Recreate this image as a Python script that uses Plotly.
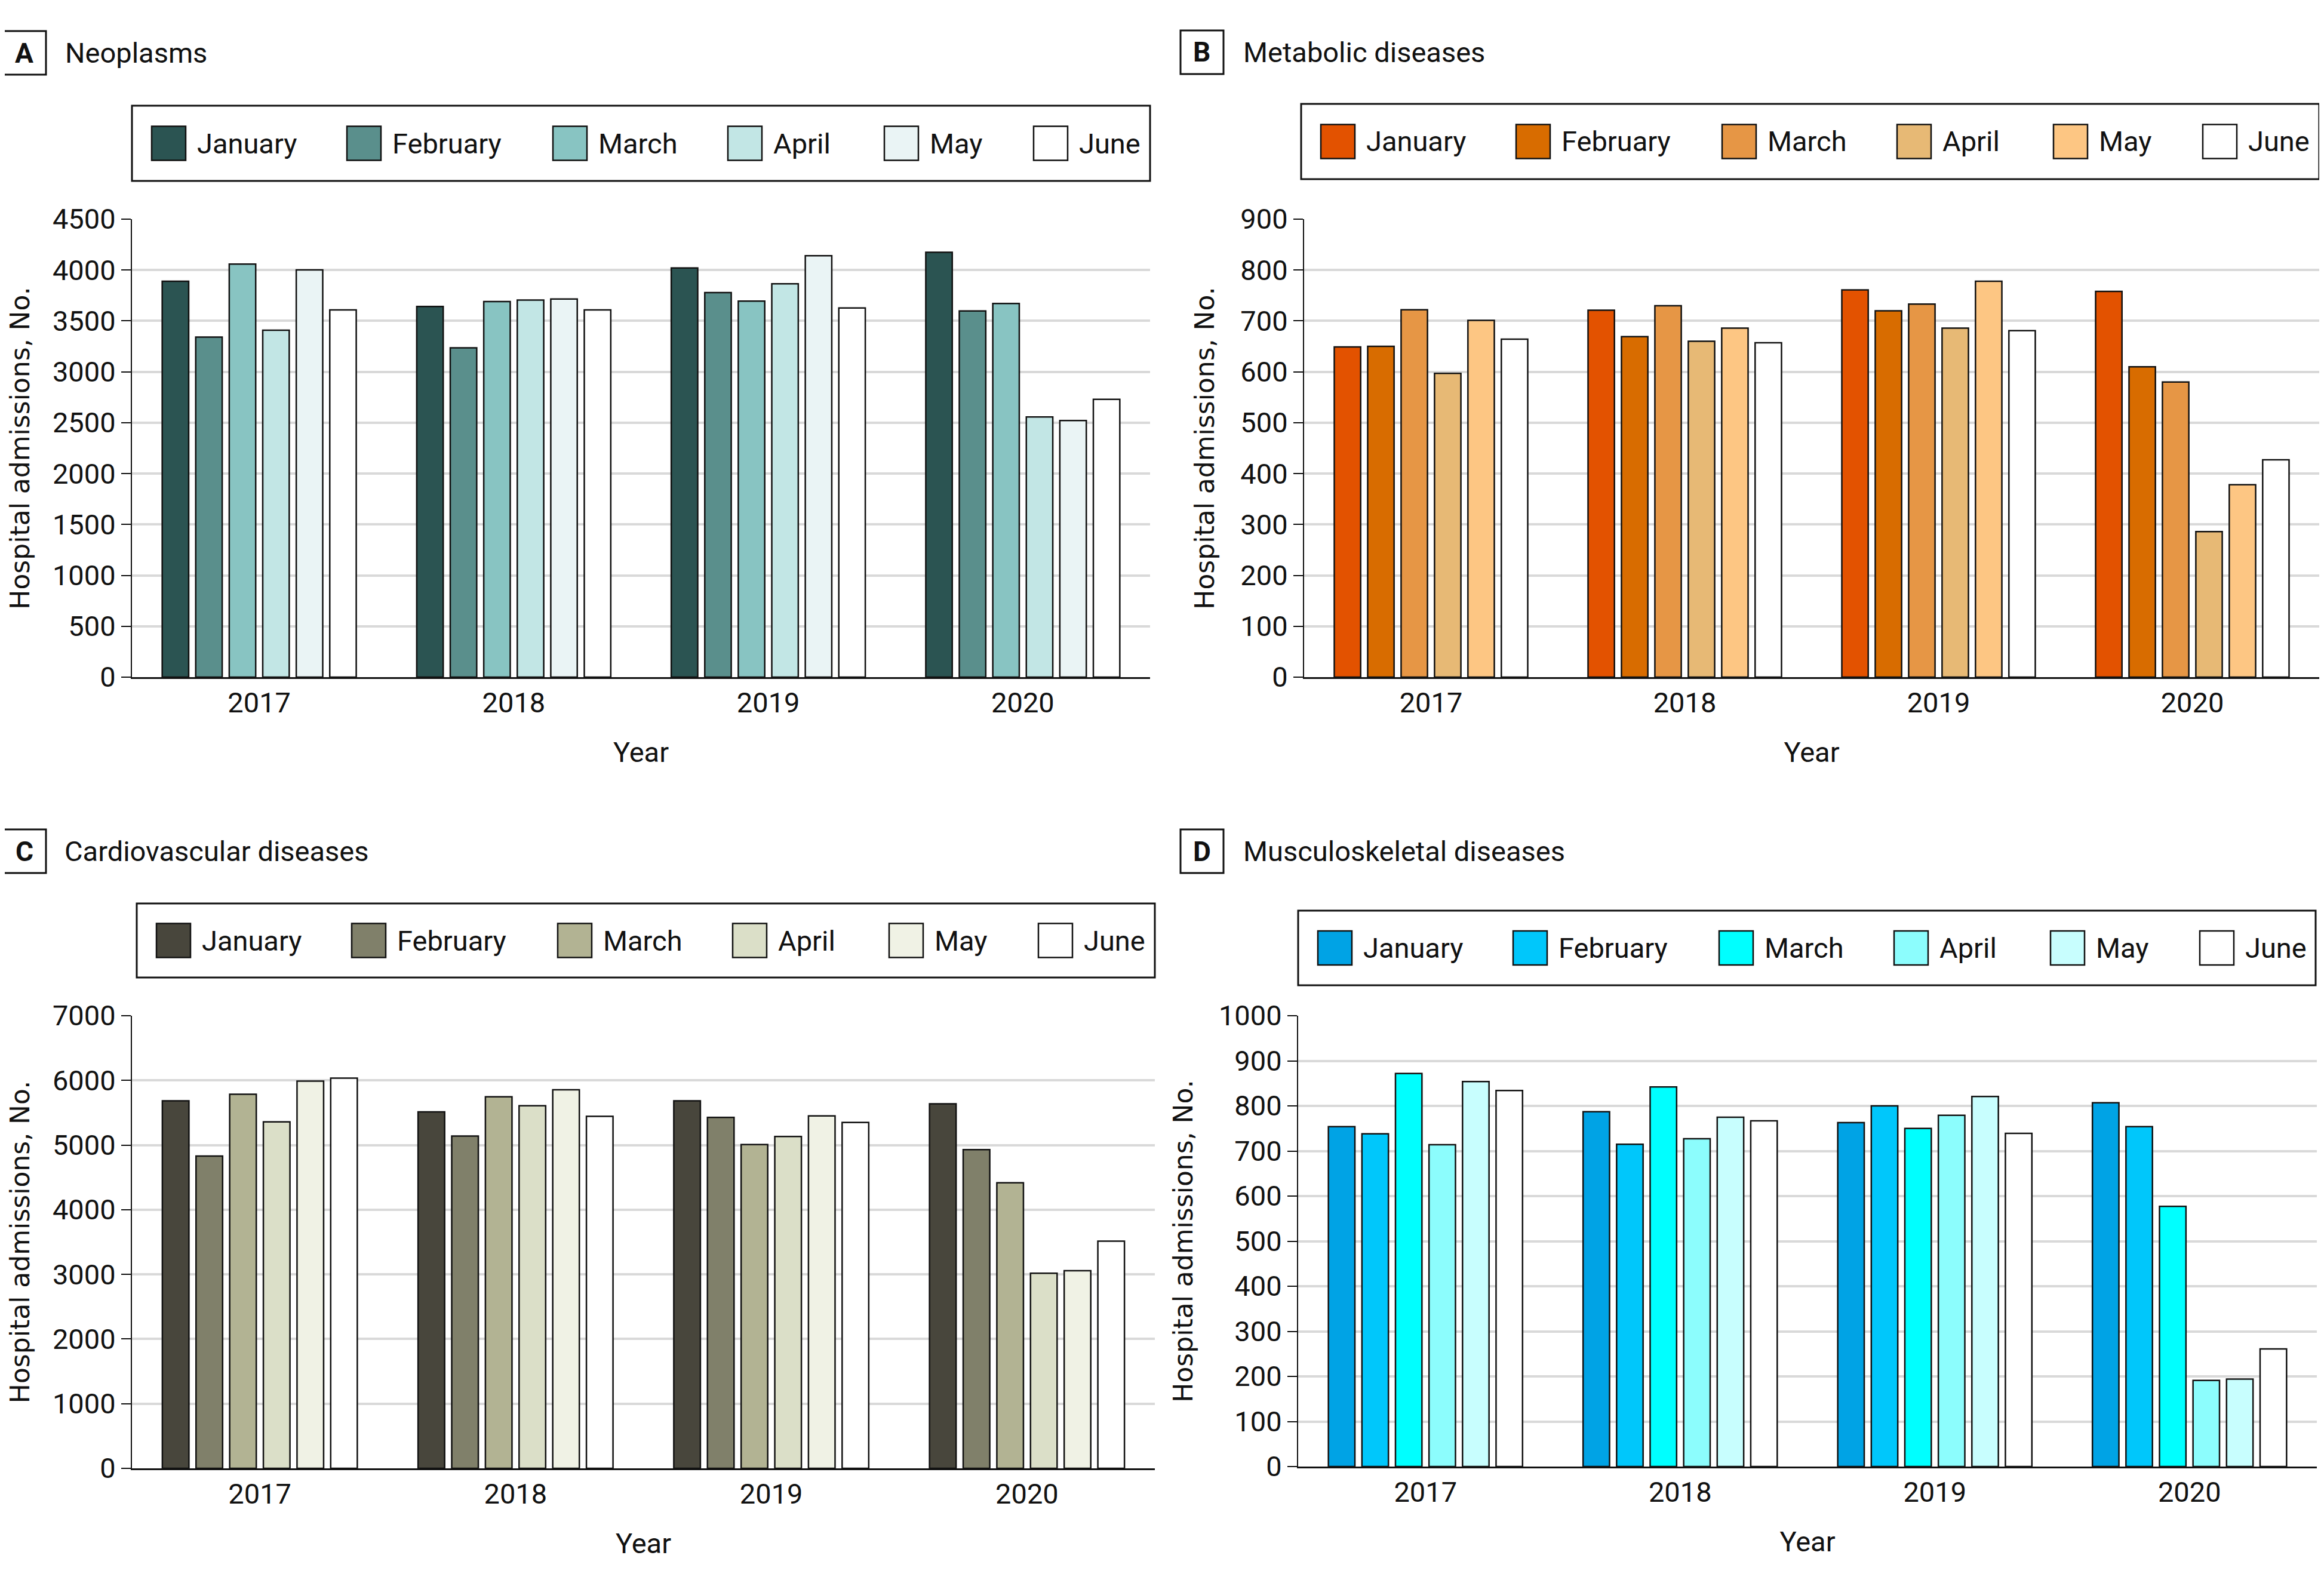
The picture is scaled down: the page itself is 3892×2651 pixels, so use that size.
import plotly.graph_objects as go

# 数据：四类疾病 2017-2020 每年1-6月住院人数
years = ["2017", "2018", "2019", "2020"]
months = ["January", "February", "March", "April", "May", "June"]

neoplasms = {
    "January": [3890, 3642, 4020, 4175],
    "February": [3341, 3235, 3778, 3598],
    "March": [4059, 3690, 3695, 3671],
    "April": [3409, 3705, 3865, 2556],
    "May": [4001, 3715, 4141, 2522],
    "June": [3608, 3608, 3627, 2730],
}
metabolic = {
    "January": [649, 721, 761, 758],
    "February": [650, 669, 720, 610],
    "March": [722, 730, 733, 580],
    "April": [597, 660, 686, 286],
    "May": [701, 686, 778, 378],
    "June": [664, 657, 681, 427],
}
cardiovascular = {
    "January": [5684, 5513, 5684, 5638],
    "February": [4829, 5140, 5428, 4930],
    "March": [5785, 5747, 5008, 4417],
    "April": [5358, 5607, 5132, 3017],
    "May": [5988, 5855, 5451, 3056],
    "June": [6034, 5443, 5350, 3515],
}
musculoskeletal = {
    "January": [754, 787, 763, 807],
    "February": [738, 715, 800, 754],
    "March": [872, 842, 750, 577],
    "April": [714, 727, 779, 191],
    "May": [854, 775, 821, 194],
    "June": [834, 767, 739, 261],
}

colors_a = ["#2b5452", "#5a8f8c", "#88c4c2", "#c2e6e5", "#eaf4f5", "#ffffff"]
colors_b = ["#e35200", "#d86c00", "#e69645", "#e7b975", "#fdc683", "#ffffff"]
colors_c = ["#48463c", "#80806a", "#b2b393", "#dbdfc8", "#f0f2e5", "#ffffff"]
colors_d = ["#00a3e5", "#00c7fb", "#00ffff", "#8cfdfd", "#c8fefe", "#ffffff"]

W, H = 3892, 2651
FONT = "Roboto, Lato, sans-serif"
FS = 47
OFF = 8  # 页面 body 默认边距

# 每个面板的位置（像素）
panels = [
    dict(letter="A", name="Neoplasms", data=neoplasms, colors=colors_a, ymax=4500, dtick=500,
         plot=(221, 1926, 367, 1134), legend=(221, 1926, 177, 303), box=(4, 77, 52, 125), tx=107),
    dict(letter="B", name="Metabolic diseases", data=metabolic, colors=colors_b, ymax=900, dtick=100,
         plot=(2184, 3884, 367, 1134), legend=(2179, 3884, 174, 300), box=(1977, 2049, 51, 124), tx=2080),
    dict(letter="C", name="Cardiovascular diseases", data=cardiovascular, colors=colors_c, ymax=7000, dtick=1000,
         plot=(221, 1934, 1701, 2459), legend=(229, 1934, 1513, 1637), box=(4, 77, 1389, 1462), tx=106),
    dict(letter="D", name="Musculoskeletal diseases", data=musculoskeletal, colors=colors_d, ymax=1000, dtick=100,
         plot=(2174, 3880, 1701, 2456), legend=(2174, 3878, 1525, 1650), box=(1977, 2049, 1389, 1462), tx=2080),
]
LEGEND_OFFSETS = [33, 360, 705, 998, 1260, 1510]
SW = 57


def px(x):
    return (x - OFF) / W


def py(y):
    return 1 - (y - OFF) / H


fig = go.Figure()
shapes = []
annotations = []

for i, p in enumerate(panels):
    n = "" if i == 0 else str(i + 1)
    for m, c in zip(months, p["colors"]):
        fig.add_trace(go.Bar(
            x=years, y=p["data"][m], name=m,
            marker=dict(color=c, line=dict(color="#111", width=2.5)),
            xaxis="x" + n, yaxis="y" + n, showlegend=False,
        ))
    x0, x1, y0, y1 = p["plot"]
    fig.layout["xaxis" + n] = dict(
        domain=[px(x0), px(x1)], anchor="y" + n, showline=True, linecolor="#111", linewidth=3,
        ticks="", showgrid=False, tickfont=dict(family=FONT, size=FS, color="#111"),
        title=dict(text="Year", font=dict(family=FONT, size=FS, color="#111"), standoff=40),
        automargin=False,
    )
    fig.layout["yaxis" + n] = dict(
        domain=[py(y1), py(y0)], anchor="x" + n, range=[0, p["ymax"]], dtick=p["dtick"],
        showline=True, linecolor="#111", linewidth=2, ticks="outside", ticklen=16, tickwidth=2,
        tickcolor="#111", showgrid=True, gridcolor="#d9d9d9", gridwidth=4, zeroline=False,
        tickfont=dict(family=FONT, size=FS, color="#111"),
        title=dict(text="Hospital admissions, No.", font=dict(family="DejaVu Sans", size=44, color="#111"),
                   standoff=30),
        automargin=False,
    )

    # 面板标题
    bx0, bx1, by0, by1 = p["box"]
    shapes.append(dict(type="rect", xref="paper", yref="paper", x0=px(bx0), x1=px(bx1), y0=py(by1), y1=py(by0),
                       line=dict(color="#111", width=3)))
    annotations.append(dict(text="<b>%s</b>" % p["letter"], xref="paper", yref="paper",
                            x=px((bx0 + bx1) / 2), y=py((by0 + by1) / 2), showarrow=False,
                            xanchor="center", yanchor="middle", font=dict(family=FONT, size=46, color="#111")))
    annotations.append(dict(text=p["name"], xref="paper", yref="paper", x=px(p["tx"]), y=py((by0 + by1) / 2),
                            showarrow=False, xanchor="left", yanchor="middle",
                            font=dict(family=FONT, size=FS, color="#111")))

    # 图例（手绘大色块）
    lx0, lx1, ly0, ly1 = p["legend"]
    shapes.append(dict(type="rect", xref="paper", yref="paper", x0=px(lx0), x1=px(lx1), y0=py(ly1), y1=py(ly0),
                       line=dict(color="#111", width=3)))
    cy = (ly0 + ly1) / 2
    for m, c, off in zip(months, p["colors"], LEGEND_OFFSETS):
        sx = lx0 + off
        shapes.append(dict(type="rect", xref="paper", yref="paper", x0=px(sx), x1=px(sx + SW),
                           y0=py(cy + SW / 2), y1=py(cy - SW / 2), fillcolor=c, line=dict(color="#111", width=2.5)))
        annotations.append(dict(text=m, xref="paper", yref="paper", x=px(sx + SW + 17), y=py(cy),
                                showarrow=False, xanchor="left", yanchor="middle",
                                font=dict(family=FONT, size=FS, color="#111")))

fig.update_layout(
    width=W, height=H, autosize=False,
    margin=dict(l=0, r=0, t=0, b=0),
    paper_bgcolor="white", plot_bgcolor="white",
    barmode="group", bargap=0.21, bargroupgap=0.21,
    shapes=shapes, annotations=annotations,
    showlegend=False,
)

fig.write_html("out.html")
